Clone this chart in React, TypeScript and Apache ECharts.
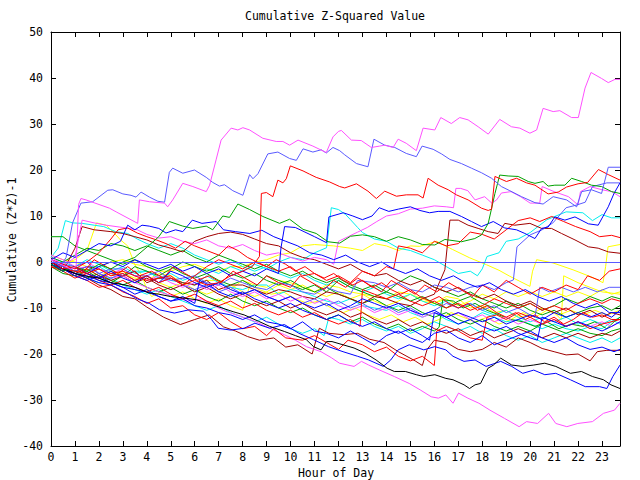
import React, { useEffect, useRef } from "react";
import * as echarts from "echarts";

type Pt = [number, number];

const titleText = "Cumulative Z-Squared Value";
const xTitle = "Hour of Day";
const yTitle = "Cumulative (Z*Z)-1";
const xMin = 0;
const xMax = 23.75;
const yMin = -40;
const yMax = 50;

const magentaTop: Pt[] = [[0,0.5],[0.4,-0.5],[0.8,-1.5],[1.05,-1.0],[1.15,12.5],[1.25,13.8],[1.46,13.5],[2.44,11.7],[2.72,10.9],[3.62,8.4],[3.69,13.5],[4.11,13.1],[4.74,12.8],[4.87,12.0],[5.08,13.5],[5.5,17.1],[5.92,16.4],[6.48,15.3],[6.62,16.7],[6.89,22.2],[7.1,26.5],[7.52,29.1],[7.8,28.7],[8.01,29.2],[8.29,28.7],[8.84,26.9],[9.4,26.2],[9.68,26.2],[9.96,25.4],[10.31,26.5],[10.93,25.2],[11.49,23.8],[11.77,27.2],[12.0,28.4],[12.12,28.6],[12.54,26.5],[12.95,26.4],[13.37,24.9],[13.72,25.2],[13.93,25.4],[14.28,24.9],[14.49,26.7],[14.83,25.8],[15.25,24.2],[15.53,29.1],[16.02,28.7],[16.27,31.4],[16.71,30.1],[17.06,31.4],[17.41,30.9],[17.83,29.4],[18.25,27.8],[18.73,31.0],[19.22,29.4],[19.57,29.1],[19.99,28.0],[20.27,28.7],[20.54,33.4],[20.96,32.7],[21.24,32.9],[21.73,31.4],[22.01,31.4],[22.29,37.8],[22.54,41.2],[22.98,39.9],[23.26,39.0],[23.54,39.7],[23.75,39.7]];

const periwinkleHigh: Pt[] = [[0,0.5],[0.4,-1],[0.63,1.0],[0.9,8.5],[1.25,12.8],[1.74,13.1],[2.37,15.6],[2.58,15.7],[3.0,14.8],[3.34,14.5],[3.55,14.1],[3.76,15.2],[4.11,14.1],[4.46,13.2],[4.74,13.0],[4.94,19.5],[5.08,20.4],[5.5,19.3],[5.99,20.0],[6.48,18.4],[6.75,17.3],[7.03,16.5],[7.24,16.8],[7.59,15.5],[8.01,14.5],[8.29,19.0],[8.43,18.1],[8.64,19.2],[9.05,23.5],[9.47,23.9],[9.96,22.5],[10.24,22.1],[10.52,24.6],[10.93,23.9],[11.28,24.4],[11.49,23.7],[11.77,24.9],[12.05,24.2],[12.26,23.3],[12.75,21.4],[13.23,20.7],[13.48,26.7],[13.65,26.2],[13.93,25.4],[14.35,24.9],[14.83,23.6],[15.25,22.9],[15.49,25.2],[15.95,24.5],[16.3,23.5],[16.65,22.3],[17.13,21.4],[17.55,20.4],[17.97,19.4],[18.39,18.2],[18.8,16.4],[19.15,15.5],[19.64,14.2],[20.2,12.9],[20.54,12.6],[20.96,14.2],[21.52,13.5],[21.94,12.0],[22.15,15.3],[22.56,15.7],[22.98,14.9],[23.26,20.6],[23.75,20.6]];

const redHigh: Pt[] = [[0,0],[0.5,-1.5],[1,-1],[1.5,-2.5],[2,-1.5],[2.5,-3],[3,-2.5],[3.5,-4],[4,-3],[4.5,-4.5],[5,-3.5],[5.5,-5],[6,-4],[6.5,-5],[7,-4.5],[7.5,-3],[8,-2],[8.4,-1],[8.7,1.2],[8.78,14.9],[8.99,15.1],[9.26,14.2],[9.47,17.8],[9.68,17.2],[9.82,18.1],[9.99,20.9],[10.52,19.8],[10.79,19.1],[11.07,18.4],[11.63,17.4],[12.05,16.4],[12.26,16.1],[12.75,17.0],[13.23,15.4],[13.58,13.8],[13.93,15.4],[14.42,14.3],[14.83,14.6],[15.32,14.6],[15.53,13.9],[15.74,18.2],[16.16,16.7],[16.58,15.7],[16.92,14.6],[17.41,13.5],[17.97,11.7],[18.25,11.2],[18.39,11.5],[18.53,18.6],[19.01,17.5],[19.43,18.2],[19.85,17.2],[20.2,16.7],[20.75,14.8],[21.17,15.2],[21.52,16.3],[22.0,17.0],[22.4,17.3],[22.85,20.1],[23.26,19.0],[23.75,17.8]];

const greenHigh: Pt[] = [[0,-0.5],[0.5,-2],[1,-1],[1.5,-2],[2,-0.5],[2.5,-1.5],[3,0],[3.5,1],[4.11,3.7],[4.5,5.5],[4.94,8.8],[5.5,7.8],[5.92,7.3],[6.48,7.8],[6.75,7.0],[7.17,10.0],[7.45,9.7],[7.8,12.6],[8.29,11.4],[8.84,9.9],[9.54,8.4],[9.96,9.3],[10.52,7.1],[11.07,6.2],[11.56,4.4],[12.05,4.1],[12.5,5.6],[13.0,5.9],[13.5,5.5],[14.0,4.5],[14.5,5.5],[15.0,4.8],[15.5,3.8],[16.02,3.7],[16.44,4.9],[17.13,4.4],[17.69,5.1],[17.97,5.9],[18.25,8.4],[18.53,14.9],[18.73,18.9],[19.08,18.7],[19.5,18.6],[19.92,17.5],[20.2,17.1],[20.54,17.5],[20.75,16.5],[21.03,16.7],[21.45,16.7],[21.73,18.2],[22.15,17.5],[22.56,16.7],[22.98,16.4],[23.4,15.3],[23.75,14.9]];

const periwinkleLate: Pt[] = [[0,0.5],[0.5,-0.5],[1,-1],[1.5,0],[2,-2.5],[2.5,-1.5],[3,-1.5],[3.5,-3],[4,-3],[4.5,-2],[5,-4],[5.5,-3.5],[6,-3],[6.5,-4.5],[7,-5],[7.5,-3.5],[8,-4.5],[8.5,-5.5],[9,-6],[9.5,-4.5],[10,-5],[10.5,-6.5],[11,-7],[11.5,-5.5],[12,-6.5],[12.5,-7],[12.8,-4],[13.5,-4.5],[14,-5.5],[14.5,-4.5],[15,-6],[15.5,-6.5],[16,-5],[16.5,-5.5],[17,-6.5],[17.5,-5.5],[18,-5],[18.5,-6],[19,-4.5],[19.3,-3.9],[19.45,3.3],[20,5.9],[20.5,7],[20.95,8.5],[21.5,11.8],[21.95,12.4],[22.3,13],[22.6,16.4],[23.2,17.2],[23.75,17.2]];

const blueMid: Pt[] = [[0,-0.5],[0.5,-2],[1,-1],[1.5,-2.5],[2,-1],[2.5,0],[3,-1],[3.5,0.5],[4,-0.5],[4.5,-1.5],[5,-0.5],[5.5,-2],[6,-1],[6.5,-2.5],[7,-1.5],[7.5,-3],[8,-2],[8.5,-3],[9,-1.5],[9.5,-2.5],[9.6,3.1],[9.75,7.7],[10.2,7.5],[10.6,6.5],[11.0,5.5],[11.5,4.2],[11.6,9.8],[12.2,10.7],[12.6,10.0],[13.0,9.2],[13.4,10.0],[13.7,11.8],[14.1,11.0],[14.5,11.5],[15.0,12.0],[15.4,11.2],[15.8,10.7],[16.16,11.0],[16.65,11.0],[17.13,9.9],[17.55,8.8],[17.97,7.7],[18.46,8.8],[18.94,7.4],[19.43,7.0],[19.78,6.2],[20.2,5.1],[20.48,7.3],[20.75,7.6],[21.03,9.8],[21.45,9.1],[21.87,9.8],[22.43,8.3],[22.84,8.0],[23.26,12.0],[23.5,14.9],[23.75,17.2]];

const magentaMid: Pt[] = [[0,0.5],[0.6,-0.5],[1.0,1],[1.3,9.1],[1.8,8.5],[2.3,8.0],[3.0,7.5],[3.6,7.0],[4.0,6.0],[4.5,5.2],[5.0,5.5],[5.5,4.5],[6.0,4.0],[6.5,4.8],[7.0,3.5],[7.5,3.0],[8.0,3.8],[8.5,2.5],[9.0,1.5],[9.5,2.0],[10.0,1.0],[10.5,0.2],[11.0,1.0],[11.5,0.5],[11.8,-0.5],[12.0,4.5],[12.4,5.5],[12.8,6.5],[13.2,7.5],[13.6,8.8],[14.0,10.0],[14.5,10.5],[15.0,11.5],[15.5,11.7],[16.0,12.2],[16.5,12.0],[16.8,11.8],[16.9,16.0],[17.1,16.0],[17.4,15.5],[17.7,13.5],[18.1,14.2],[18.4,12.8],[18.6,13.5],[18.8,15.0],[19.2,15.3],[19.6,14.2],[20.0,12.8],[20.4,12.8],[20.5,16.4],[21.0,15.3],[21.6,14.2],[22.0,12.4],[22.1,15.3],[22.5,16.4],[23.0,15.7],[23.4,15.3],[23.75,14.2]];

const cyanMid: Pt[] = [[0,1],[0.5,0],[1,-1],[1.5,0.5],[2,-0.5],[2.5,-2],[3,-1],[3.5,-2.5],[4,-2],[4.5,-3.5],[5,-2.5],[5.5,-4],[6,-3],[6.5,-1.5],[7,-2.5],[7.5,-1],[8,-2],[8.5,-0.5],[9,-1.5],[9.5,0],[10,1],[10.5,0.5],[11,2],[11.5,3.1],[11.7,11.8],[12.0,11.4],[12.3,10.3],[12.5,9.2],[12.8,7.5],[13.0,6.4],[13.5,5.0],[14.0,4.5],[14.5,3.0],[15.0,2.5],[15.5,1.5],[16.0,0.5],[16.5,-1.0],[17.0,-2.5],[17.5,-2.0],[17.8,-3.0],[18.0,-1.5],[18.2,1.2],[18.7,2.0],[19.0,4.5],[19.5,5.0],[20.0,6.4],[20.7,9.2],[21.5,10.9],[22.2,10.7],[22.6,9.0],[23.0,10.3],[23.4,9.6],[23.75,9.6]];

const redLate: Pt[] = [[0,-1],[0.5,-1.5],[1,-2],[1.5,-2.5],[2,-3.5],[2.5,-2.5],[3,-2],[3.5,-3],[4,-4],[4.5,-3.5],[5,-3],[5.5,-5],[6,-3],[6.5,-1],[7,0.5],[7.5,-0.5],[8,-1.5],[8.5,0],[9,-1],[9.5,-2],[10,-1],[10.5,-3],[11,-2.5],[11.5,-4],[12,-3],[12.5,-4.5],[13,-2],[13.5,-3],[14,-1],[14.3,-1.5],[14.5,3.5],[15,3.0],[15.5,2.0],[16,4.5],[16.5,3.5],[17,4.0],[17.5,6.5],[18,6.0],[18.5,5.0],[19,7.0],[19.5,9.0],[20.0,9.6],[20.4,8.8],[20.9,9.9],[21.4,8.8],[21.9,7.7],[22.5,6.6],[22.9,5.5],[23.4,5.8],[23.75,5.3]];

const darkRedLate: Pt[] = [[0,0],[0.5,-1],[1,-2],[1.5,-1],[2,-1.5],[2.5,-2.5],[3,-3],[3.5,-2],[4,-4.5],[4.5,-3.5],[5,-3.5],[5.5,-4.5],[6,-5],[6.5,-4],[7,-6],[7.5,-5],[8,-5],[8.5,-6],[9,-7],[9.5,-6],[10,-6.5],[10.5,-7.5],[11,-8],[11.5,-6.5],[12,-7],[12.5,-8],[13,-9],[13.5,-7.5],[14,-8],[14.5,-9],[15,-9.5],[15.5,-8],[16,-7],[16.44,-1.7],[16.65,9.1],[17.0,9.1],[17.41,8.0],[17.83,7.3],[18.25,6.6],[18.66,6.2],[18.94,8.4],[19.36,8.0],[19.99,8.4],[20.48,7.3],[20.89,7.3],[21.31,6.2],[21.87,4.8],[22.43,3.3],[22.84,3.0],[23.26,2.2],[23.75,1.9]];

const yellowHigh: Pt[] = [[0,1.5],[0.5,0.5],[1,0],[1.5,-1],[2,-1],[2.5,0],[3,0.5],[3.5,-0.5],[4,-1],[4.5,-2],[5,-2],[5.5,-1],[6,-0.5],[6.5,-1.5],[7,-2],[7.5,-1],[8,-1],[8.5,0],[9,0.5],[9.5,1.5],[10,2.0],[10.5,3.5],[11,3.8],[11.8,3.5],[12.5,3.0],[13,2.5],[13.5,4.0],[14,3.5],[14.5,2.5],[15.0,3.5],[15.39,3.4],[16.09,4.5],[16.77,2.7],[17.48,0.9],[18.18,-0.6],[18.7,-1.8],[19.15,-3.1],[19.57,-4.2],[19.99,-5.3],[20.1,-2],[20.27,0.5],[20.95,-0.2],[21.79,-1.7],[22.62,-3.4],[23.04,-4.5],[23.15,-1],[23.25,3.3],[23.75,3.8]];

const yellowLate: Pt[] = [[0,-0.5],[0.5,-1.5],[1,-2],[1.5,-1.5],[2,-3],[2.5,-2],[3,-2.5],[3.5,-3.5],[4,-4],[4.5,-2.5],[5,-3],[5.5,-4.5],[6,-5],[6.5,-4],[7,-4],[7.5,-6],[8,-4],[8.5,-5],[9,-5.5],[9.5,-4],[10,-4.5],[10.5,-5.5],[11,-6.5],[11.5,-5],[12,-5.5],[12.5,-6.5],[13,-7],[13.5,-7.5],[14,-8],[14.5,-6.5],[15,-7],[15.5,-8.5],[16,-9],[16.5,-7.5],[17,-8],[17.5,-10],[18,-9.5],[18.5,-11],[19,-10.5],[19.5,-12],[20,-11.5],[20.5,-10],[21.0,-11],[21.3,-12.5],[21.4,-3],[22,-4.5],[22.5,-5.5],[23,-6.5],[23.75,-7]];

const blueLow: Pt[] = [[0,-0.5],[0.5,-1.5],[1,-2.5],[1.5,-3.5],[2,-4.5],[2.5,-5],[3.15,-6.7],[3.6,-8],[4.1,-9],[4.53,-10.4],[5.15,-11.1],[5.76,-10.4],[6.37,-10.7],[6.7,-12.5],[6.98,-14.4],[7.5,-14.8],[8.06,-14.4],[8.51,-13.3],[9.13,-14.4],[9.74,-13.6],[10.35,-15.5],[10.96,-16.9],[11.58,-18.4],[12.19,-19.5],[12.8,-20.5],[13.26,-21.3],[13.87,-22.7],[14.18,-21.3],[14.49,-19.1],[14.95,-18.0],[15.56,-19.1],[16.02,-18.4],[16.48,-19.1],[16.78,-20.5],[17.24,-21.6],[17.7,-21.3],[18.16,-22.7],[18.77,-21.6],[19.23,-22.7],[19.69,-24.2],[20.15,-23.5],[20.61,-24.5],[21.07,-24.2],[21.68,-25.6],[22.3,-27.1],[22.9,-27.1],[23.2,-27.5],[23.45,-24.9],[23.75,-22.4]];

const blueLow2: Pt[] = [[0,-0.5],[0.5,-1.5],[1,-2.5],[1.5,-3],[2,-4],[2.5,-4.5],[3,-5.5],[3.5,-6],[4,-6.5],[4.5,-7.5],[5,-8.5],[5.5,-8],[6,-9.5],[6.5,-10],[7,-11],[7.5,-11.5],[8,-12.5],[8.5,-11.5],[9,-13],[9.5,-13.5],[10,-14.5],[10.5,-13],[11,-15],[11.5,-15.5],[12,-16.5],[12.5,-15],[13,-16.5],[13.5,-18],[14,-16],[14.5,-15],[15,-16.5],[15.5,-17.5],[16,-15.5],[16.5,-14.8],[17,-16.5],[17.5,-17.5],[18,-16],[18.5,-18],[19,-17],[19.5,-16],[20,-15],[20.5,-16.5],[21,-17.5],[21.5,-16.5],[22,-18],[22.5,-19],[23,-18.5],[23.5,-19.5],[23.75,-19]];

const darkRedLow: Pt[] = [[0,0],[0.5,-1.5],[1,-2.5],[1.5,-3.5],[2,-5],[2.5,-6],[3,-7.5],[3.5,-8],[4,-9.8],[4.7,-12],[5.4,-13.6],[6,-12.5],[6.6,-11.5],[7.2,-14.1],[7.7,-15],[8.2,-16.2],[8.7,-17],[9.3,-16.5],[9.8,-18.5],[10.3,-18],[10.9,-20],[11.2,-14.4],[11.6,-15.5],[12.2,-15.8],[12.8,-15.5],[13.3,-16.8],[13.9,-17.5],[14.5,-19.5],[15.2,-21.5],[15.5,-22.5],[15.7,-19],[16.0,-17],[16.5,-17.5],[17.0,-19.0],[17.5,-19.5],[18.0,-19.0],[18.5,-17.5],[19.0,-18.5],[19.5,-16.5],[20.0,-17.5],[20.5,-18.8],[21.0,-19.5],[21.5,-20.2],[22.0,-20.0],[22.5,-21.5],[22.8,-19.5],[23.2,-19.2],[23.75,-19.2]];

const blackLow: Pt[] = [[0,0],[0.5,-1.5],[1,-2.5],[1.47,-3.1],[2.0,-3.5],[2.5,-4.5],[3.0,-4.9],[3.5,-5.5],[4.07,-6.7],[4.5,-7],[4.99,-7.5],[5.5,-7.8],[6.06,-8.2],[6.52,-8.9],[7.14,-10.0],[7.6,-10.8],[8.06,-11.5],[8.67,-12.9],[9.13,-14.0],[9.74,-15.1],[10.2,-16],[10.66,-16.9],[10.96,-18.4],[11.27,-19.1],[11.5,-17.3],[11.73,-17.3],[12.19,-18.0],[12.65,-18.7],[13.11,-19.8],[13.57,-21.3],[14.03,-23.1],[14.33,-23.8],[14.79,-23.8],[15.25,-24.5],[15.56,-24.9],[16.02,-24.5],[16.48,-25.3],[16.78,-25.6],[17.24,-26.7],[17.47,-27.5],[17.7,-26.7],[17.93,-26.4],[18.24,-23.1],[18.47,-22.4],[18.77,-20.9],[19.23,-22.4],[19.69,-22.7],[20.15,-22.4],[20.61,-22.0],[21.07,-22.7],[21.68,-24.2],[22.14,-23.8],[22.6,-24.9],[23.06,-25.6],[23.37,-26.7],[23.75,-27.5]];

const magentaLow: Pt[] = [[0,1],[0.5,-0.5],[1,-1.5],[1.5,-1],[2,-2.5],[2.5,-3.5],[3,-3],[3.5,-4.5],[4,-5.5],[4.5,-6.5],[5.15,-7.5],[5.7,-8.5],[6.3,-8.0],[6.8,-9.5],[7.29,-10.7],[7.9,-11.8],[8.51,-12.9],[9.13,-14.4],[9.74,-15.8],[10.2,-17.0],[10.66,-18.4],[11.27,-19.5],[11.7,-20.8],[12.04,-22.0],[12.65,-22.7],[12.96,-21.6],[13.26,-22.4],[13.72,-23.5],[14.33,-24.9],[14.95,-26.4],[15.41,-27.8],[15.87,-29.3],[16.17,-29.6],[16.48,-28.9],[16.78,-30.7],[17.01,-28.5],[17.4,-29.6],[17.86,-30.7],[18.32,-32.2],[18.93,-34.0],[19.54,-35.8],[19.85,-34.7],[20.31,-35.1],[20.77,-32.9],[21.07,-35.1],[21.53,-35.8],[21.99,-35.1],[22.6,-34.7],[23.06,-32.9],[23.52,-32.2],[23.75,-30.7]];

const redLow: Pt[] = [[0,0],[0.5,-1.5],[1,-3],[1.5,-4],[2,-5.5],[2.5,-5],[3,-6.5],[3.5,-7.5],[4,-9],[4.5,-8],[5,-10],[5.5,-9.5],[6,-11.5],[6.5,-12.5],[7,-11],[7.5,-13],[8,-14.5],[8.5,-14],[9,-16],[9.3,-14.5],[9.8,-16.5],[10.5,-17],[11,-16],[11.5,-17.5],[12,-19],[12.4,-17],[13,-18],[13.5,-19.5],[14,-18.5],[14.5,-20.5],[15,-21.5],[15.5,-20.5],[16,-22.5],[16.1,-15],[16.5,-14],[17,-15],[17.5,-16.5],[18,-17],[18.2,-12],[18.6,-11.5],[19,-12.5],[19.5,-11],[20,-12],[20.5,-13.5],[21,-12.5],[21.5,-14],[22,-13],[22.5,-14.5],[23,-13.5],[23.75,-12.5]];

const redNearZero: Pt[] = [[0,-0.5],[0.5,-2],[1,-1],[1.3,-2.5],[1.8,0.5],[2.3,-1],[2.8,-2.5],[3.2,-1],[3.7,-3],[4.2,-2],[4.7,-3.5],[5.1,-1],[5.6,-2.5],[6.1,-4],[6.6,-3],[7.1,-4.5],[7.6,-2],[8.1,-3.5],[8.6,-5],[9.0,-3],[9.5,-4.5],[10,-5.5],[10.4,-3],[10.9,-4.5],[11.4,-6],[11.8,-4],[12.3,-5.5],[12.8,-3.5],[13.3,-5],[13.8,-6.5],[14.2,-4],[14.7,-5.5],[15.2,-7],[15.6,-5],[16.1,-6.5],[16.6,-4.5],[17.1,-6],[17.6,-7.5],[18.0,-5],[18.5,-6.5],[19.0,-4],[19.5,-5.5],[20.0,-7],[20.5,-5.5],[21.0,-6.5],[21.5,-5],[22.0,-6],[22.4,-3],[22.9,-4],[23.3,-2],[23.75,-1.5]];

const darkRedUpper: Pt[] = [[0,0],[0.6,-1],[1.0,3],[1.3,7.7],[1.8,7.0],[2.5,6.6],[3.0,6.2],[3.5,5.5],[4.0,4.8],[4.5,3.7],[5.0,3.0],[5.5,2.2],[6.0,4.5],[6.5,5.5],[7.0,6.2],[7.5,6.5],[8.0,6.0],[8.5,5.0],[9.0,4.0],[9.5,3.5],[10.0,2.0],[10.5,1.0],[11.0,0.5],[11.5,-0.5],[12.0,-1.5],[12.5,-0.5],[13.0,-2.0],[13.5,-3.0],[14.0,-2.5],[14.5,-4.0],[15.0,-5.0],[15.5,-4.0],[16.0,-5.5],[16.5,-6.5],[17.0,-5.5],[17.5,-7.0],[18.0,-8.0],[18.5,-7.0],[19.0,-8.5],[19.5,-9.5],[20.0,-8.5],[20.5,-10.0],[21.0,-11.0],[21.5,-10.0],[22.0,-11.5],[22.5,-10.5],[23.0,-12.0],[23.4,-11.0],[23.75,-11.5]];

const redUpper: Pt[] = [[0,0.5],[0.5,-0.5],[1.0,-1.5],[1.5,0],[2.0,2],[2.5,5],[2.8,7.0],[3.2,7.4],[3.6,6.3],[4.0,5.5],[4.4,4.8],[4.8,4.0],[5.2,3.0],[5.6,4.5],[6.0,3.5],[6.5,2.5],[7.0,1.5],[7.4,3.5],[7.8,2.5],[8.2,1.0],[8.6,0],[9.0,-1],[9.4,0.5],[9.8,-0.5],[10.2,-2],[10.6,-1],[11.0,-2.5],[11.4,-3.5],[11.8,-2.5],[12.2,-4],[12.6,-5],[13.0,-4],[13.4,-5.5],[13.8,-4.5],[14.2,-6],[14.6,-7],[15.0,-6],[15.4,-7.5],[15.8,-8.5],[16.2,-7.5],[16.6,-9],[17.0,-10],[17.4,-9],[17.8,-10.5],[18.2,-9.5],[18.6,-11],[19.0,-12],[19.4,-11],[19.8,-12.5],[20.2,-11.5],[20.6,-13],[21.0,-12],[21.4,-13.5],[21.8,-12.5],[22.2,-11],[22.6,-12],[23.0,-11.5],[23.4,-12.5],[23.75,-12.5]];

const greenStartHigh: Pt[] = [[0,5.5],[0.5,5.5],[1,3.5],[1.5,2.5],[2,1.5],[2.5,0.5],[3,-0.5],[3.5,0.5],[4,-1],[4.5,-2],[5,-1],[5.5,-2.5],[6,-3.5],[6.5,-2.5],[7,-4],[7.5,-5],[8,-4],[8.5,-5.5],[9,-3],[9.5,-4],[10,-5],[10.5,-6],[11,-5],[11.5,-6.5],[12,-4],[12.5,-5.5],[13,-6.5],[13.5,-7.5],[14,-6.5],[14.5,-7.5],[15,-8.5],[15.5,-7.5],[16,-9],[16.5,-10],[17,-8.5],[17.5,-7.5],[18,-9],[18.5,-10],[19,-8.5],[19.5,-10],[20,-9],[20.5,-10.5],[21,-9.5],[21.5,-8],[22,-9],[22.5,-7.5],[23,-8.5],[23.4,-7.5],[23.75,-8]];

const greenUpper: Pt[] = [[0,1],[0.5,0],[1,1.5],[1.5,3],[2,2.5],[2.5,4],[3,3.5],[3.5,2.5],[4,3.5],[4.5,2.5],[5,1.5],[5.5,2.5],[6,1],[6.5,0],[7,1.5],[7.5,0.5],[8,-0.5],[8.5,-1.5],[9,-0.5],[9.5,-2],[10,-3],[10.5,-2],[11,-3.5],[11.5,-4.5],[12,-3.5],[12.5,-5],[13,-6],[13.5,-5],[14,-6.5],[14.5,-4.5],[15,-3],[15.5,-4],[16,-5.5],[16.5,-6.5],[17,-7.5],[17.5,-6.5],[18,-8],[18.5,-9],[19,-10],[19.5,-9],[20,-10.5],[20.5,-11.5],[21,-10.5],[21.5,-12],[22,-11],[22.5,-10],[23,-9.5],[23.4,-10.5],[23.75,-9.5]];

const greenLower: Pt[] = [[0,-1],[0.5,-2.5],[1,-3],[1.5,-2],[2,-3.5],[2.5,-4.5],[3,-3],[3.5,-1],[4,-2],[4.5,-3],[5,-1.5],[5.5,0],[6,-1],[6.5,-2],[7,-1],[7.5,-2.5],[8,-3.5],[8.5,-2.5],[9,-4],[9.5,-5],[10,-4],[10.5,-5.5],[11,-6.5],[11.5,-5.5],[12,-7],[12.5,-8],[13,-9],[13.5,-8],[14,-9.5],[14.5,-10.5],[15,-9.5],[15.5,-11],[16,-12],[16.5,-11],[17,-12.5],[17.5,-13.5],[18,-12.5],[18.5,-14],[19,-15],[19.5,-14],[20,-15],[20.5,-13.5],[21,-14.5],[21.5,-15.5],[22,-14.5],[22.5,-15.5],[23,-16],[23.4,-15],[23.75,-14.5]];

const greenJump: Pt[] = [[0,0],[0.5,-1],[1,-2.5],[1.5,-3.5],[2,-2.5],[2.5,-4],[3,-5],[3.5,-4],[4,-5.5],[4.5,-6.5],[5,-5.5],[5.5,-7],[6,-6],[6.5,-7.5],[7,-8.5],[7.5,-7],[8,-8.5],[8.5,-9.5],[9,-8.5],[9.5,-10],[10,-11],[10.5,-10],[11,-11.5],[11.5,-12.5],[12,-11.5],[12.5,-13],[13,-12],[13.5,-13.5],[14,-14.5],[14.5,-13.5],[15,-15],[15.5,-14],[16,-15],[16.2,-14.2],[16.35,-8.2],[16.8,-8.5],[17.2,-10],[17.7,-9],[18.2,-10.5],[18.7,-11.5],[19.2,-12.5],[19.7,-13],[20.2,-14],[20.7,-13],[21.2,-14.5],[21.7,-13.5],[22.2,-14],[22.7,-13],[23.2,-14.5],[23.5,-13],[23.75,-12]];

const cyanLow: Pt[] = [[0,0.5],[0.5,-1],[1,-2],[1.5,-3.5],[2,-4.5],[2.5,-3.5],[3,-5],[3.5,-6],[4,-7],[4.5,-6],[5,-7.5],[5.5,-8.5],[6,-9.5],[6.5,-10.5],[7,-9.5],[7.5,-11],[8,-12],[8.5,-13],[9,-12],[9.5,-13.5],[10,-14.5],[10.5,-15.5],[11,-14.5],[11.4,-16],[11.6,-12],[12,-12.5],[12.5,-13.5],[13,-12.5],[13.5,-14],[14,-15],[14.5,-14],[15,-15.5],[15.5,-14.5],[16,-13],[16.5,-14],[17,-15],[17.5,-14],[18,-15.5],[18.5,-14.5],[19,-16],[19.5,-17],[20,-16],[20.5,-17.5],[21,-16.5],[21.5,-15.5],[22,-16.5],[22.5,-17.5],[23,-16.5],[23.4,-17.5],[23.75,-16.5]];

const cyanEarly: Pt[] = [[0,1],[0.3,3],[0.6,9],[0.9,8.5],[1.3,8.4],[1.8,8.0],[2.2,7.7],[2.7,6.6],[3.2,6.2],[3.6,5.0],[4.0,4.0],[4.5,3.0],[5.0,4.0],[5.5,3.0],[6.0,1.5],[6.5,0.5],[7.0,-0.5],[7.5,0.5],[8.0,-1.0],[8.5,-2.0],[9.0,-1.0],[9.5,-2.5],[10.0,-3.5],[10.5,-2.5],[11.0,-4.0],[11.5,-5.0],[12.0,-4.0],[12.5,-5.5],[13.0,-6.5],[13.5,-5.5],[14.0,-7.0],[14.5,-8.0],[15.0,-7.0],[15.5,-8.5],[16.0,-9.5],[16.5,-8.5],[17.0,-10.0],[17.5,-9.0],[18.0,-10.5],[18.5,-11.5],[19.0,-10.5],[19.5,-12.0],[20.0,-13.0],[20.5,-12.0],[21.0,-13.0],[21.5,-12.0],[22.0,-13.5],[22.5,-12.5],[23.0,-13.5],[23.4,-12.5],[23.75,-13.5]];

const cyanBundle: Pt[] = [[0,-0.5],[0.5,-1.5],[1,-2],[1.5,-1],[2,-1],[2.5,-2.5],[3,-3],[3.5,-2],[4,-2],[4.5,-3.5],[5,-4],[5.5,-4.5],[6,-5],[6.5,-3],[7,-4.5],[7.5,-5.5],[8,-6],[8.5,-5],[9,-5],[9.5,-7],[10,-6],[10.5,-6.5],[11,-7.5],[11.5,-8.5],[12,-9],[12.5,-8],[13,-9.5],[13.5,-10],[14,-10.5],[14.5,-9.5],[15,-11],[15.5,-12],[16,-11],[16.5,-12.5],[17,-13.5],[17.5,-12.5],[18,-11],[18.5,-12],[19,-13],[19.5,-12.5],[20,-13.5],[20.5,-14.5],[21,-13.5],[21.5,-14.5],[22,-15],[22.5,-14],[23,-14.5],[23.4,-13],[23.75,-12]];

const blueBundle: Pt[] = [[0,-0.5],[0.5,-2],[1,-1],[1.5,-2.5],[2,-3.5],[2.5,-2],[3,-3.5],[3.5,-4.5],[4,-3],[4.5,-4.5],[5,-2],[5.5,-3],[6,-4.5],[6.5,-5.5],[7,-4.5],[7.5,-6],[8,-7],[8.5,-6],[9,-7.5],[9.5,-8.5],[10,-7.5],[10.5,-9],[11,-10],[11.5,-9],[12,-10.5],[12.5,-9.5],[13,-8],[13.5,-9],[14,-10],[14.5,-9],[15,-10.5],[15.5,-11.5],[16,-10.5],[16.5,-12],[17,-11],[17.5,-12],[18,-13],[18.5,-12],[19,-13.5],[19.5,-12.5],[20,-11.5],[20.5,-12.5],[21,-11],[21.5,-12],[22,-11],[22.5,-12],[23,-11],[23.4,-12],[23.75,-10.5]];

const blueUpper: Pt[] = [[0,0.5],[0.5,2],[1,1],[1.5,2.5],[2,4],[2.5,3.5],[2.9,4.5],[3.2,8.0],[3.5,7.0],[3.8,8.0],[4.1,7.8],[4.5,7.3],[4.8,6.3],[5.2,7.0],[5.5,6.6],[5.9,9.1],[6.3,8.4],[6.9,8.8],[7.2,7.0],[7.7,6.6],[8.3,6.2],[8.8,6.9],[9.3,5.5],[9.8,4.5],[10.3,3.5],[10.8,2.0],[11.3,1.5],[11.8,0.5],[12.3,1.5],[12.8,0],[13.3,-1],[13.8,0],[14.3,-1.5],[14.8,-2.5],[15.3,-1.5],[15.8,-3],[16.3,-4],[16.8,-3],[17.3,-4.5],[17.8,-5.5],[18.3,-4.5],[18.8,-6],[19.3,-7],[19.8,-6],[20.3,-7.5],[20.8,-8.5],[21.3,-7.5],[21.8,-9],[22.3,-10],[22.8,-9],[23.3,-11],[23.75,-11]];

const blueJumps: Pt[] = [[0,0],[0.5,-1.5],[1,-3],[1.5,-4],[2,-3],[2.5,-4.5],[3,-5.5],[3.5,-7],[4,-6],[4.5,-7.5],[5,-8.5],[5.5,-7.5],[6,-9],[6.2,-4],[6.6,-5],[7,-6.5],[7.5,-7.5],[8,-6.5],[8.5,-8],[9,-9],[9.5,-10],[10,-9],[10.5,-10.5],[11,-11.5],[11.5,-12.5],[12,-11.5],[12.5,-13],[13,-14],[13.5,-13],[14,-14.5],[14.5,-15.5],[15,-14.5],[15.5,-16],[15.8,-17],[16.0,-11],[16.5,-12],[17,-13.5],[17.5,-12.5],[18,-14],[18.5,-15],[19,-14],[19.5,-15.5],[20,-16.5],[20.3,-17],[20.5,-12],[21,-13],[21.5,-14],[22,-13],[22.5,-14],[23,-15],[23.4,-14],[23.75,-13]];

const redJump: Pt[] = [[0,-1],[0.5,-2],[1,-3.5],[1.5,-2.5],[2,-4],[2.5,-5],[3,-4],[3.5,-5.5],[4,-6.5],[4.5,-5.5],[5,-7],[5.5,-8],[6,-7],[6.5,-8.5],[7,-9.5],[7.5,-8.5],[8,-10],[8.5,-9],[9,-10.5],[9.5,-11.5],[10,-10.5],[10.5,-12],[11,-11],[11.5,-12.5],[12,-13.5],[12.5,-12.5],[12.9,-14],[13.0,-6],[13.5,-7],[14,-8],[14.5,-7],[15,-8.5],[15.5,-9.5],[16,-8.5],[16.5,-10],[17,-9],[17.5,-10.5],[18,-9.5],[18.5,-8],[19,-9],[19.5,-10],[20,-9],[20.5,-10.5],[21,-9.5],[21.5,-10.5],[22,-9],[22.5,-8],[23,-9],[23.4,-8],[23.75,-8.5]];

const magentaBundle: Pt[] = [[0,1.5],[0.5,0.5],[1,-1],[1.5,0],[2,-1.5],[2.5,-2.5],[3,-1.5],[3.5,-3],[4,-4],[4.5,-3],[5,-4.5],[5.5,-5.5],[6,-4.5],[6.5,-6],[7,-5],[7.5,-6.5],[8,-7.5],[8.5,-6.5],[9,-8],[9.5,-7],[10,-8.5],[10.5,-7.5],[11,-9],[11.5,-8],[12,-9.5],[12.5,-10.5],[13,-9.5],[13.5,-11],[14,-10],[14.5,-11.5],[15,-10.5],[15.5,-12],[16,-11],[16.5,-12],[17,-11],[17.5,-12.5],[18,-11.5],[18.5,-13],[19,-12],[19.5,-13.5],[20,-12.5],[20.5,-13.5],[21,-12.5],[21.5,-14],[22,-13],[22.5,-14],[23,-13],[23.4,-14],[23.75,-13]];

const darkRedBundle: Pt[] = [[0,0],[0.5,-1],[1,-2.5],[1.5,-1.5],[2,-3],[2.5,-4],[3,-3],[3.5,-4.5],[4,-3.5],[4.5,-5],[5,-6],[5.5,-5],[6,-6.5],[6.5,-5.5],[7,-7],[7.5,-8],[8,-7],[8.5,-8.5],[9,-9.5],[9.5,-8.5],[10,-10],[10.5,-9],[11,-10.5],[11.5,-11.5],[12,-10.5],[12.5,-12],[13,-11],[13.5,-12.5],[14,-13.5],[14.5,-12.5],[15,-14],[15.5,-13],[16,-14.5],[16.5,-15.5],[17,-14.5],[17.5,-16],[18,-15],[18.5,-16.5],[19,-15.5],[19.5,-14.5],[20,-15.5],[20.5,-16.5],[21,-15.5],[21.5,-16.5],[22,-15.5],[22.5,-16.5],[23,-15.5],[23.4,-16],[23.75,-15]];

const yellowBundle: Pt[] = [[0,-0.5],[0.5,-1.5],[1,-1],[1.5,-2.5],[2,-1.5],[2.5,-3],[3,-2],[3.5,-4],[4,-3],[4.5,-4.5],[5,-5.5],[5.5,-4.5],[6,-6],[6.5,-7],[7,-6],[7.5,-5],[8,-6.5],[8.5,-7.5],[9,-6.5],[9.5,-5],[10,-6],[10.5,-5],[11,-6.5],[11.5,-7.5],[12,-6.5],[12.5,-8],[13,-7],[13.5,-8.5],[14,-9.5],[14.5,-8.5],[15,-7],[15.5,-8],[16,-9],[16.5,-8],[17,-9.5],[17.5,-8.5],[18,-7],[18.5,-8],[19,-6.5],[19.5,-7.5],[20,-6.5],[20.5,-7.5],[21,-6.5],[21.5,-7.5],[22,-6.5],[22.5,-7.5],[23,-6],[23.4,-7],[23.75,-6.5]];

const yellowEarly: Pt[] = [[0,0.5],[0.5,-0.5],[1,0.5],[1.5,2.5],[1.9,8.5],[2.3,8.0],[2.6,6.5],[2.9,4.8],[3.2,3.5],[3.5,-0.6],[3.8,-3],[4.0,-6],[4.2,-7.5],[4.6,-6.5],[5.0,-7.5],[5.5,-6.5],[6.0,-8],[6.5,-9],[7.0,-8],[7.5,-9.5],[8.0,-10.5],[8.3,-5],[8.7,-6],[9.2,-7],[9.7,-6.5],[10.2,-8],[10.7,-9],[11.2,-8.5],[11.7,-10],[12.2,-11],[12.7,-10],[13.2,-11.5],[13.7,-12.5],[14.2,-11.5],[14.7,-13],[15.2,-12],[15.7,-13.5],[16.2,-12.5],[16.7,-11],[17.2,-12],[17.7,-13],[18.2,-12],[18.7,-13.5],[19.2,-12.5],[19.7,-11],[20.2,-12],[20.7,-10.5],[21.2,-11.5],[21.7,-10.5],[22.2,-11.5],[22.7,-10.5],[23.2,-11.5],[23.75,-10.5]];

const periwinkleBundle: Pt[] = [[0,0],[0.5,-1],[1,-2],[1.5,-1],[2,-2.5],[2.5,-3.5],[3,-2.5],[3.5,-4],[4,-3],[4.5,-4.5],[5,-3.5],[5.5,-5],[6,-6],[6.5,-5],[7,-6.5],[7.5,-5.5],[8,-7],[8.5,-6],[9,-7.5],[9.5,-8.5],[10,-7.5],[10.5,-9],[11,-8],[11.5,-9.5],[12,-8.5],[12.5,-10],[13,-9],[13.5,-10.5],[14,-9.5],[14.5,-11],[15,-10],[15.5,-11.5],[16,-10.5],[16.5,-9],[17,-10],[17.5,-9],[18,-10.5],[18.5,-9.5],[19,-11],[19.5,-10],[20,-11.5],[20.2,-12],[20.4,-5.5],[20.8,-6.5],[21.3,-5.5],[21.8,-6.5],[22.3,-5.5],[22.8,-6.5],[23.3,-5.5],[23.75,-5.5]];

const seriesData: Pt[][] = [
  yellowHigh, yellowLate, yellowBundle, yellowEarly,
  cyanMid, cyanLow, cyanEarly, cyanBundle,
  greenStartHigh, greenUpper, greenLower, greenJump,
  darkRedUpper, darkRedBundle, darkRedLow, darkRedLate,
  magentaBundle, magentaMid, magentaLow,
  periwinkleBundle, periwinkleLate,
  redNearZero, redUpper, redJump, redLow, redLate,
  blueBundle, blueUpper, blueJumps, blueLow, blueLow2, blueMid,
  blackLow,
  greenHigh, redHigh, periwinkleHigh, magentaTop,
];

const seriesColors: string[] = [
  "#ffff00", "#ffff00", "#ffff00", "#ffff00",
  "#00eeee", "#00eeee", "#00eeee", "#00eeee",
  "#00a000", "#00a000", "#00a000", "#00a000",
  "#a00000", "#a00000", "#a00000", "#a00000",
  "#ff50ff", "#ff50ff", "#ff50ff",
  "#5a5aff", "#5a5aff",
  "#ff0000", "#ff0000", "#ff0000", "#ff0000", "#ff0000",
  "#0000ff", "#0000ff", "#0000ff", "#0000ff", "#0000ff", "#0000ff",
  "#000000",
  "#00a000", "#ff0000", "#5a5aff", "#ff50ff",
];

const FONT = "'DejaVu Sans Mono', monospace";

export default function App() {
  const ref = useRef<HTMLDivElement>(null);
  useEffect(() => {
    if (!ref.current) return;
    const chart = echarts.init(ref.current, undefined, { renderer: "svg" });
    const tickStyle = { inside: true, length: 5, lineStyle: { color: "#000", width: 1 } };
    const lineStyleAxis = { show: true, onZero: false, lineStyle: { color: "#000", width: 1 } };
    const xLabelFmt = (v: number) => (Math.abs(v - Math.round(v)) < 1e-6 ? String(Math.round(v)) : "");
    const series: any[] = seriesData.map((d, i) => ({
      type: "line",
      data: d,
      xAxisIndex: 0,
      yAxisIndex: 0,
      showSymbol: false,
      symbol: "none",
      silent: true,
      lineStyle: { color: seriesColors[i], width: 1 },
      itemStyle: { color: seriesColors[i] },
      emphasis: { disabled: true },
      z: 2,
    }));
    series.unshift({
      type: "line",
      data: [],
      xAxisIndex: 0,
      yAxisIndex: 0,
      silent: true,
      markLine: {
        silent: true,
        symbol: "none",
        label: { show: false },
        lineStyle: { color: "#5a5aff", type: "solid", width: 1 },
        data: [{ yAxis: 0 }],
      },
      z: 1,
    });
    chart.setOption({
      animation: false,
      backgroundColor: "#ffffff",
      grid: { left: 51, right: 20, top: 32, bottom: 34, containLabel: false },
      xAxis: [
        {
          type: "value", position: "bottom", min: xMin, max: xMax, interval: 1,
          axisLine: lineStyleAxis, axisTick: tickStyle, splitLine: { show: false },
          axisLabel: { formatter: xLabelFmt, color: "#000", fontFamily: FONT, fontSize: 11.5, margin: 5, showMaxLabel: false },
        },
        {
          type: "value", position: "top", min: xMin, max: xMax, interval: 1,
          axisLine: lineStyleAxis, axisTick: tickStyle, splitLine: { show: false },
          axisLabel: { show: false },
        },
      ],
      yAxis: [
        {
          type: "value", position: "left", min: yMin, max: yMax, interval: 10,
          axisLine: lineStyleAxis, axisTick: tickStyle, splitLine: { show: false },
          axisLabel: { color: "#000", fontFamily: FONT, fontSize: 11.5, margin: 8 },
        },
        {
          type: "value", position: "right", min: yMin, max: yMax, interval: 10,
          axisLine: lineStyleAxis, axisTick: tickStyle, splitLine: { show: false },
          axisLabel: { show: false },
        },
      ],
      graphic: [
        { type: "text", x: 335, y: 16, style: { text: titleText, fill: "#000", font: `11.5px ${FONT}`, textAlign: "center", textVerticalAlign: "middle" } },
        { type: "text", x: 336, y: 473, style: { text: xTitle, fill: "#000", font: `11.5px ${FONT}`, textAlign: "center", textVerticalAlign: "middle" } },
        { type: "text", x: 12, y: 240, rotation: Math.PI / 2, style: { text: yTitle, fill: "#000", font: `11.5px ${FONT}`, textAlign: "center", textVerticalAlign: "middle" } },
      ],
      series,
    });
    return () => chart.dispose();
  }, []);
  return <div ref={ref} style={{ position: "fixed", left: 0, top: 0, width: 640, height: 480, background: "#fff" }} />;
}
